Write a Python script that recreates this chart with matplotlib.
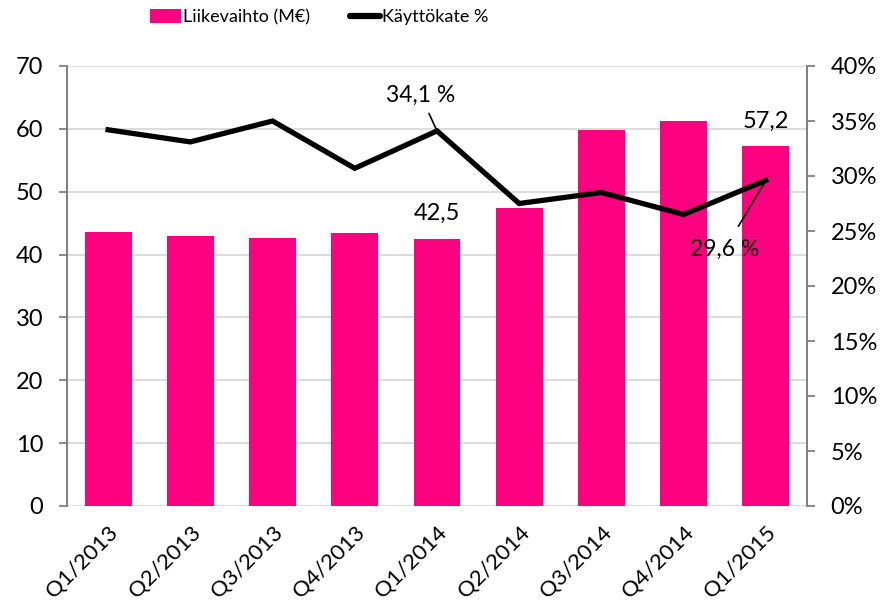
import matplotlib
matplotlib.use("Agg")
import matplotlib.pyplot as plt
from matplotlib.ticker import FuncFormatter
from matplotlib.patches import Patch
from matplotlib.lines import Line2D

plt.rcParams['font.family'] = ['Lato', 'DejaVu Sans']

categories = ["Q1/2013", "Q2/2013", "Q3/2013", "Q4/2013", "Q1/2014",
              "Q2/2014", "Q3/2014", "Q4/2014", "Q1/2015"]
revenue = [43.6, 43.0, 42.6, 43.4, 42.5, 47.4, 59.8, 61.2, 57.2]
ebitda_pct = [34.2, 33.1, 35.0, 30.7, 34.1, 27.5, 28.5, 26.5, 29.6]
left_ticks = [0, 10, 20, 30, 40, 50, 60, 70]
right_ticks = [0, 5, 10, 15, 20, 25, 30, 35, 40]

pink = "#FF0080"
fig = plt.figure(figsize=(8.92, 6.07), dpi=100)
ax = fig.add_axes([67/892, 101/607, 740/892, 440/607])
ax2 = ax.twinx()

x = list(range(len(categories)))
ax.bar(x, revenue, width=0.57, color=pink, zorder=3)
ax.set_ylim(0, 70)
ax.set_xlim(-0.5, len(categories) - 0.5)
ax.set_yticks(left_ticks)
ax.grid(axis='y', color='#D9D9D9', linewidth=1.3, zorder=0)
ax.set_axisbelow(True)
ax.set_xticks(x)
ax.set_xticklabels(categories, rotation=45, ha='right', rotation_mode='anchor', fontsize=16)
ax.tick_params(axis='x', length=0, pad=12)
ax.tick_params(axis='y', labelsize=17, length=6, color='#808080', width=1.3, pad=11)

ax2.plot(x, ebitda_pct, color='black', linewidth=3.8, solid_joinstyle='miter', zorder=5)
ax2.set_ylim(0, 40)
ax2.set_yticks(right_ticks)
ax2.yaxis.set_major_formatter(FuncFormatter(lambda v, p: f"{int(v)}%"))
ax2.tick_params(axis='y', labelsize=17, length=6, color='#808080', width=1.3, pad=11)

for a in (ax, ax2):
    a.spines['top'].set_visible(False)
    a.spines['bottom'].set_visible(False)
    a.spines['left'].set_color('#808080')
    a.spines['right'].set_color('#808080')
    a.spines['left'].set_linewidth(1.3)
    a.spines['right'].set_linewidth(1.3)

# data labels
ax.text(4, revenue[4] + 2.4, "42,5", ha='center', va='bottom', fontsize=17)
ax.text(8, revenue[8] + 2.4, "57,2", ha='center', va='bottom', fontsize=17)
ax2.annotate("34,1 %", xy=(4, ebitda_pct[4]), xytext=(3.8, 36.4),
             ha='center', va='bottom', fontsize=16.5,
             arrowprops=dict(arrowstyle='-', color='black', lw=1.2, shrinkA=4, shrinkB=0))
ax2.annotate("29,6 %", xy=(8, ebitda_pct[8]), xytext=(7.5, 22.4),
             ha='center', va='bottom', fontsize=16.5,
             arrowprops=dict(arrowstyle='-', color='black', lw=1.2, shrinkA=8, shrinkB=0))

# legend
handles = [Patch(facecolor=pink, edgecolor='none'),
           Line2D([0], [0], color='black', linewidth=4.5, solid_capstyle='round')]
fig.legend(handles, ["Liikevaihto (M€)", "Käyttökate %"], loc='upper center',
           bbox_to_anchor=(0.358, 1.012), ncol=2, frameon=False, fontsize=13,
           handlelength=1.7, handleheight=0.8, handletextpad=0.1, columnspacing=2.2)

fig.savefig("out.png", dpi=100)
